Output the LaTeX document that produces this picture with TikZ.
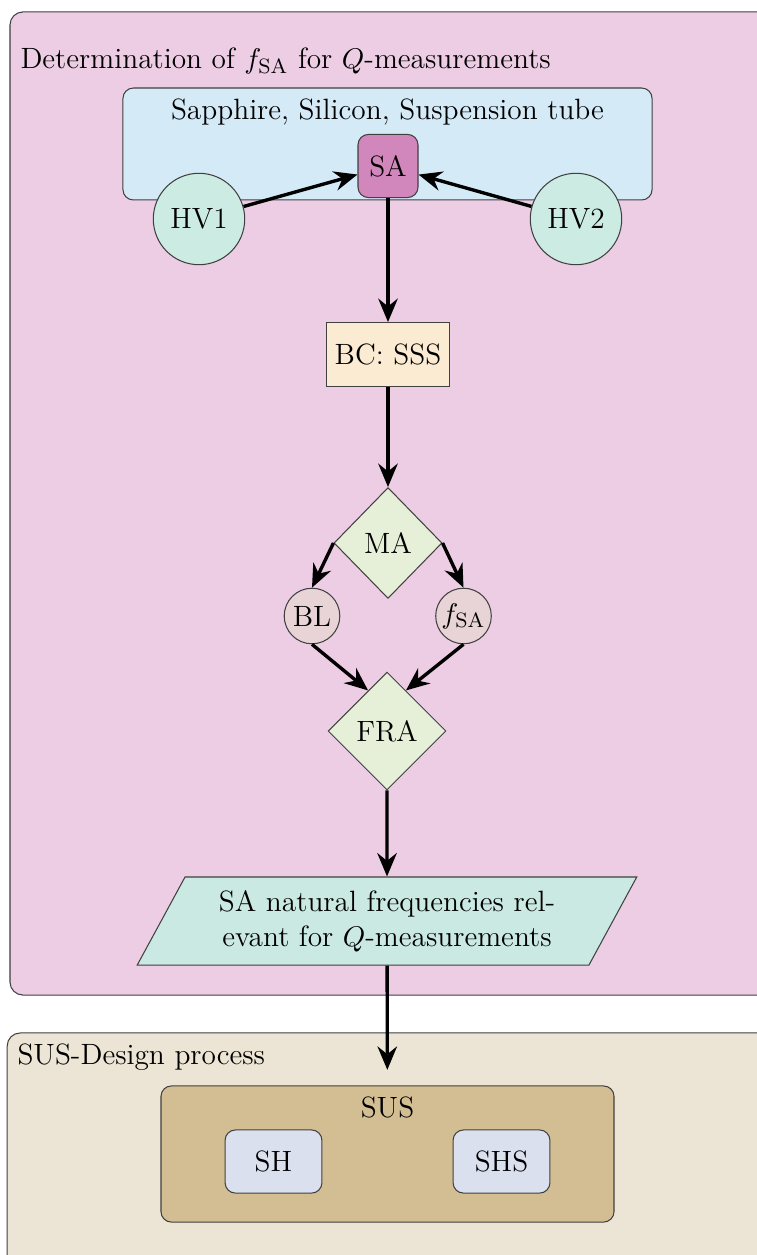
\documentclass[tikz,border=0pt]{standalone}
\usetikzlibrary{shapes.geometric,arrows.meta}

\definecolor{detpink}{RGB}{236,205,228}
\definecolor{matblue}{RGB}{212,234,247}
\definecolor{samag}{RGB}{209,134,188}
\definecolor{hvteal}{RGB}{204,235,227}
\definecolor{bcpeach}{RGB}{250,235,210}
\definecolor{mgreen}{RGB}{230,240,216}
\definecolor{blrose}{RGB}{232,212,214}
\definecolor{outteal}{RGB}{201,233,226}
\definecolor{susbeige}{RGB}{236,228,212}
\definecolor{sustan}{RGB}{211,190,148}
\definecolor{shlav}{RGB}{218,224,238}

\tikzset{
  group/.style={draw=black!75, thin, rounded corners=5pt, inner sep=0pt},
  rbox/.style={draw=black!75, thin, rounded corners=4pt, inner sep=0pt},
  sbox/.style={draw=black!75, thin, inner sep=0pt},
  dia/.style={diamond, draw=black!75, thin, inner sep=0pt, fill=mgreen},
  circ/.style={circle, draw=black!75, thin, inner sep=0pt},
  arr/.style={-{Stealth[length=9pt,width=7.5pt,inset=3pt]}, line width=1.3pt},
}

\begin{document}
\begin{tikzpicture}[x=0.385pt, y=-0.385pt, font=\fontsize{11.3}{13.4}\selectfont]
  \useasboundingbox (0,0) rectangle (757,1255);
  \clip (0,0) rectangle (757,1255);

  % containers
  \node[group, fill=detpink, minimum width=308pt, minimum height=378.5pt] (det) at (410,503.5) {};
  \node[anchor=base west, inner sep=0pt] (dettitle) at (20,69) {Determination of $f_{\mathrm{SA}}$ for $Q$-measurements};
  \node[group, fill=susbeige, minimum width=309pt, minimum height=93.2pt] (susdesign) at (408.5,1154) {};
  \node[anchor=base west, inner sep=0pt] (sustitle) at (17,1064) {SUS-Design process};

  % materials
  \node[rbox, fill=matblue, minimum width=203.7pt, minimum height=43.1pt] (mat) at (387.5,144) {};
  \node[anchor=base] (mattitle) at (387.5,120) {Sapphire, Silicon, Suspension tube};
  \node[rbox, fill=samag, minimum width=23.1pt, minimum height=24.3pt] (SA) at (388,166) {SA};
  \node[circ, fill=hvteal, minimum size=35.2pt] (HV1) at (199,219) {HV1};
  \node[circ, fill=hvteal, minimum size=35.2pt] (HV2) at (576,219) {HV2};

  % analysis chain
  \node[sbox, fill=bcpeach, minimum width=47pt, minimum height=24.6pt] (BC) at (388,354.5) {BC: SSS};
  \node[dia, minimum width=41.6pt, minimum height=42.7pt] (MA) at (388,543) {MA};
  \node[circ, fill=blrose, minimum size=21.4pt] (BL) at (312,616) {BL};
  \node[circ, fill=blrose, minimum size=21.4pt] (fSA) at (463.5,616) {$f_{\mathrm{SA}}$};
  \node[dia, minimum width=45.4pt, minimum height=45.4pt] (FRA) at (387,731) {FRA};
  \node[trapezium, trapezium left angle=57, trapezium right angle=123, trapezium stretches=true,
        draw=black!75, thin, fill=outteal, inner sep=0pt, align=center,
        minimum width=192.5pt, minimum height=33.9pt] (freq) at (387,921)
        {SA natural frequencies rel-\\evant for $Q$-measurements};

  % SUS
  \node[rbox, fill=sustan, minimum width=174.4pt, minimum height=52.4pt] (SUS) at (387.5,1154) {};
  \node[anchor=base] (suslabel) at (387.5,1117) {SUS};
  \node[rbox, fill=shlav, minimum width=37.3pt, minimum height=24.3pt] (SH) at (273.5,1161.5) {SH};
  \node[rbox, fill=shlav, minimum width=37.3pt, minimum height=24.3pt] (SHS) at (501.5,1161.5) {SHS};

  % arrows
  \draw[arr] (HV1) -- (SA);
  \draw[arr] (HV2) -- (SA);
  \draw[arr] (SA) -- (BC);
  \draw[arr] (BC) -- (MA);
  \draw[arr] (MA.west) -- (BL.north);
  \draw[arr] (MA.east) -- (fSA.north);
  \draw[arr] (BL.south) -- (FRA.115);
  \draw[arr] (fSA.south) -- (FRA.65);
  \draw[arr] (FRA) -- (freq);
  \draw[arr, shorten >=6pt] (freq) -- (SUS);
\end{tikzpicture}
\end{document}
